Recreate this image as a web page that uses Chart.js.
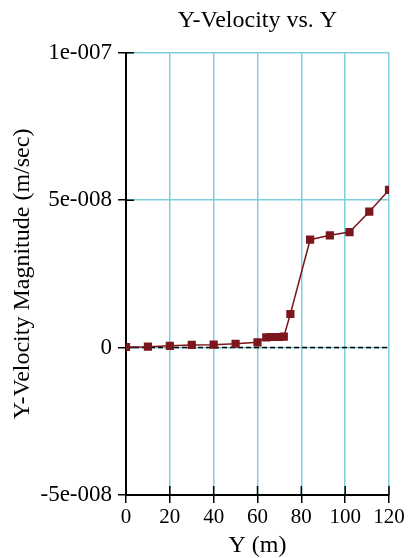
<!DOCTYPE html>
<html>
<head>
<meta charset="utf-8">
<script src="https://cdn.jsdelivr.net/npm/chart.js@4"></script>
<style>
  html, body { margin: 0; padding: 0; background: #fff; }
  #wrap { width: 410px; height: 558px; }
</style>
</head>
<body>
<div id="wrap"><canvas id="chartContainer"></canvas></div>
<script>
// Y position (m)
const yPos = [0, 10, 20, 30, 40, 50, 60, 64, 66, 68, 70, 72, 75, 84, 93, 102, 111, 120];
// Y-velocity magnitude (m/sec)
const yVel = [0.2e-9, 0.3e-9, 0.6e-9, 0.9e-9, 1.0e-9, 1.3e-9, 1.8e-9, 3.5e-9, 3.6e-9, 3.6e-9, 3.6e-9, 3.7e-9,
  11.4e-9, 36.6e-9, 38.1e-9, 39.2e-9, 46.1e-9, 53.5e-9];

const xTicks = [0, 20, 40, 60, 80, 100, 120];
const yTicks = [-5e-8, 0, 5e-8, 1e-7];
const yTickLabels = ["-5e-008", "0", "5e-008", "1e-007"];

const gridCyan = "#7dcfdc";
const markColor = "#7a161c";
const serif = "'Liberation Serif', 'Times New Roman', serif";

// dashed zero line + little inner tick marks
const extras = {
  id: "extras",
  beforeDatasetsDraw(chart) {
    const { ctx, chartArea, scales } = chart;
    const x = scales.x, y = scales.y;
    ctx.save();
    ctx.strokeStyle = "#000";
    ctx.lineWidth = 1.5;
    ctx.setLineDash([5, 3]);
    const y0 = y.getPixelForValue(0);
    ctx.beginPath();
    ctx.moveTo(chartArea.left, y0);
    ctx.lineTo(chartArea.right, y0);
    ctx.stroke();
    ctx.setLineDash([]);
    ctx.beginPath();
    xTicks.forEach((v) => {
      const px = x.getPixelForValue(v);
      ctx.moveTo(px, chartArea.bottom);
      ctx.lineTo(px, chartArea.bottom - 9);
    });
    yTicks.forEach((v) => {
      const py = y.getPixelForValue(v);
      ctx.moveTo(chartArea.left, py);
      ctx.lineTo(chartArea.left + 8, py);
    });
    ctx.stroke();
    ctx.restore();
  },
};

new Chart(document.getElementById("chartContainer"), {
  type: "scatter",
  data: {
    datasets: [
      {
        label: "Y-Velocity",
        data: yPos.map((v, i) => ({ x: v, y: yVel[i] })),
        showLine: true,
        borderColor: markColor,
        borderWidth: 1.5,
        backgroundColor: markColor,
        pointStyle: "rect",
        pointRadius: 5.8,
        pointHoverRadius: 5.8,
        pointBorderWidth: 0,
      },
    ],
  },
  options: {
    responsive: true,
    maintainAspectRatio: false,
    animation: false,
    layout: { padding: { top: 0, right: 21, bottom: 0, left: 0 } },
    scales: {
      x: {
        type: "linear",
        min: 0,
        max: 120,
        afterBuildTicks: (scale) => {
          scale.ticks = xTicks.map((v) => ({ value: v }));
        },
        afterFit: (scale) => {
          scale.height = 63;
        },
        border: { color: "#000", width: 2 },
        grid: {
          color: gridCyan,
          lineWidth: 1.5,
          tickColor: "#000",
          tickLength: 8,
          tickWidth: 1.5,
        },
        ticks: {
          color: "#000",
          padding: 2,
          maxRotation: 0,
          font: { family: serif, size: 21 },
        },
        title: {
          display: true,
          text: "Y (m)",
          color: "#000",
          padding: { top: 0, bottom: 0 },
          font: { family: serif, size: 24, lineHeight: 1 },
        },
      },
      y: {
        type: "linear",
        min: -5e-8,
        max: 1e-7,
        afterBuildTicks: (scale) => {
          scale.ticks = yTicks.map((v) => ({ value: v }));
        },
        afterFit: (scale) => {
          scale.width = 126;
        },
        border: { color: "#000", width: 2 },
        grid: {
          color: gridCyan,
          lineWidth: 1.5,
          tickColor: "#000",
          tickLength: 8,
          tickWidth: 1.5,
        },
        ticks: {
          color: "#000",
          padding: 6,
          font: { family: serif, size: 23 },
          callback: (value, index) => yTickLabels[index],
        },
        title: {
          display: true,
          text: "Y-Velocity Magnitude (m/sec)",
          color: "#000",
          padding: { top: 8, bottom: 0 },
          font: { family: serif, size: 24, lineHeight: 1.2 },
        },
      },
    },
    plugins: {
      legend: { display: false },
      tooltip: { enabled: false },
      title: {
        display: true,
        fullSize: false,
        text: "Y-Velocity vs. Y",
        color: "#000",
        padding: { top: 6, bottom: 18 },
        font: { family: serif, size: 24, weight: "normal", lineHeight: 1.2 },
      },
    },
  },
  plugins: [extras],
});
</script>
</body>
</html>
